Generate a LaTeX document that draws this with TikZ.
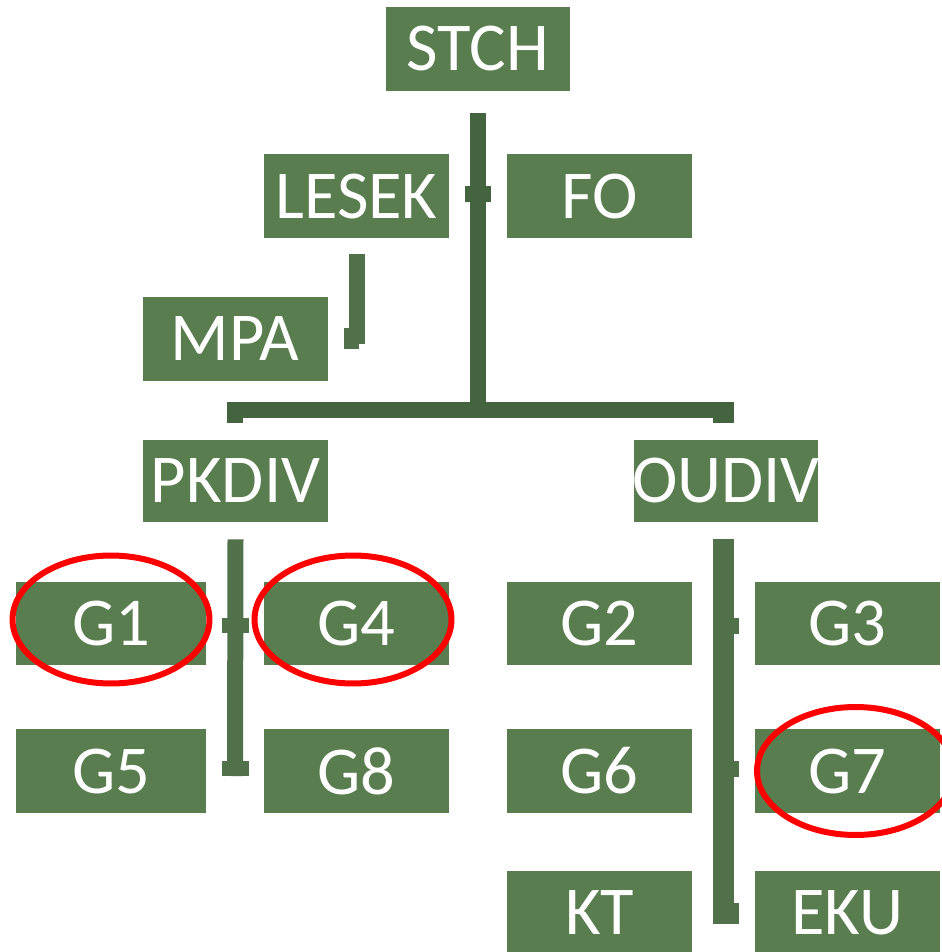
\documentclass[tikz,border=0pt]{standalone}
\usepackage{fontspec}
\setmainfont{Carlito}
\usetikzlibrary{positioning,shapes.geometric}
\definecolor{unitgreen}{RGB}{89,125,79}
\definecolor{linkdark}{RGB}{68,99,63}
\definecolor{linkgreen}{RGB}{81,113,74}

\begin{document}
\begin{tikzpicture}[x=0.02cm,y=-0.02cm,
    unit/.style={rectangle,fill=unitgreen,text=white,minimum width=3.7cm,minimum height=1.68cm,inner sep=0pt,anchor=center,font=\fontsize{39}{41}\selectfont},
    link/.style={draw=linkdark,line width=3.2mm},
    sublink/.style={draw=linkgreen,line width=3.2mm},
    ring/.style={draw=red,line width=1.2mm,ellipse,minimum width=3.94cm,minimum height=2.56cm,inner sep=0pt}]

      \useasboundingbox (0,0) rectangle (941,952);

      \coordinate (stchc) at (478,49);
      \node[unit,minimum width=3.68cm] at (stchc) (stch) {STCH};

      \coordinate[below right = 2.95cm and 2.43cm of stch.center] (foc);
      \coordinate[below left = 2.95cm and 2.43cm of stch.center] (lesekc);
      \node[unit] at (lesekc) (lesek) {LESEK};
      \node[unit] at (foc) (fo) {FO};

      \coordinate[below left = 2.85cm and 2.43cm of lesek.center] (mpac);
      \node[unit] at (mpac) (mpa) {MPA};

      \coordinate (pkdivc) at (235.5,481);
      \coordinate (oudivc) at (726,481);
      \node[unit,minimum height=1.64cm] at (pkdivc) (pkdiv) {PKDIV};
      \node[unit,minimum width=3.68cm,minimum height=1.64cm] at (oudivc) (oudiv) {\makebox[0pt]{OUDIV}};

      \coordinate (g1c) at (111,623.5);
      \coordinate (g4c) at (356.5,623.5);
      \coordinate (g5c) at (111,771);
      \coordinate (g8c) at (356.5,771);
      \node[unit,minimum width=3.8cm] at (g1c) (g1) {G1};
      \node[unit] at (g4c) (g4) {G4};
      \node[unit,minimum width=3.8cm] at (g5c) (g5) {G5};
      \node[unit] at (g8c) (g8) {G8};

      \coordinate (g2c) at (599.5,623.5);
      \coordinate (g3c) at (847.5,623.5);
      \coordinate (g6c) at (599.5,771);
      \coordinate (g7c) at (847.5,771);
      \coordinate (ktc) at (599.5,913);
      \coordinate (ekuc) at (847.5,913);
      \node[unit] at (g2c) (g2) {G2};
      \node[unit] at (g3c) (g3) {G3};
      \node[unit] at (g6c) (g6) {G6};
      \node[unit] at (g7c) (g7) {G7};
      \node[unit] at (ktc) (kt) {KT};
      \node[unit] at (ekuc) (eku) {EKU};

      % top trunk and bar
      \coordinate[below = 4.4mm of stch.south] (stchout);
      \coordinate (barl) at (227,410);
      \coordinate (barr) at (734,410);
      \coordinate (barm) at (478,410);
      \coordinate (tickl) at (465,194);
      \coordinate (tickr) at (491,194);
      \draw[link] (stchout) -- (barm);
      \draw[link] (barl) -- (barr);
      \draw[link] (tickl) -- (tickr);
      \coordinate (stubl) at (235,410);
      \coordinate (stubr) at (723.5,410);
      \draw[link] (stubl) -- ++(0,13);
      \draw[link,line width=4.2mm] (stubr) -- ++(0,13);

      % lesek to mpa
      \coordinate (lesekout) at (357,254);
      \coordinate (lesekend) at (357,344);
      \coordinate (mpafoot) at (344,338.5);
      \draw[sublink] (lesekout) -- (lesekend);
      \draw[sublink,line width=4.2mm] (mpafoot) -- ++(15,0);

      % pkdiv branch
      \coordinate[below = 3.4mm of pkdiv.south] (pkout);
      \coordinate (pkend) at (235,776);
      \coordinate (pktick) at (222,625.5);
      \coordinate (pkfoot) at (222,768.5);
      \draw[sublink] (pkout) -- (pkend);
      \draw[sublink,line width=3mm] (pktick) -- ++(27,0);
      \draw[sublink,line width=3mm] (pkfoot) -- ++(27,0);

      % oudiv branch
      \coordinate (ouout) at (723.5,539);
      \coordinate (ouend) at (723.5,924);
      \coordinate (outick1) at (723.5,626);
      \coordinate (outick2) at (723.5,768.5);
      \coordinate (oufoot) at (723.5,913.5);
      \draw[sublink,line width=4.2mm] (ouout) -- (ouend);
      \draw[sublink] (outick1) -- ++(15.5,0);
      \draw[sublink] (outick2) -- ++(15.5,0);
      \draw[sublink,line width=4.2mm] (oufoot) -- ++(15.5,0);

      % marks
      \node[ring] at (111,619.5) (ring1) {};
      \node[ring] at (353,619.5) (ring4) {};
      \node[ring] at (855.5,771) (ring7) {};

    \end{tikzpicture}
\end{document}
